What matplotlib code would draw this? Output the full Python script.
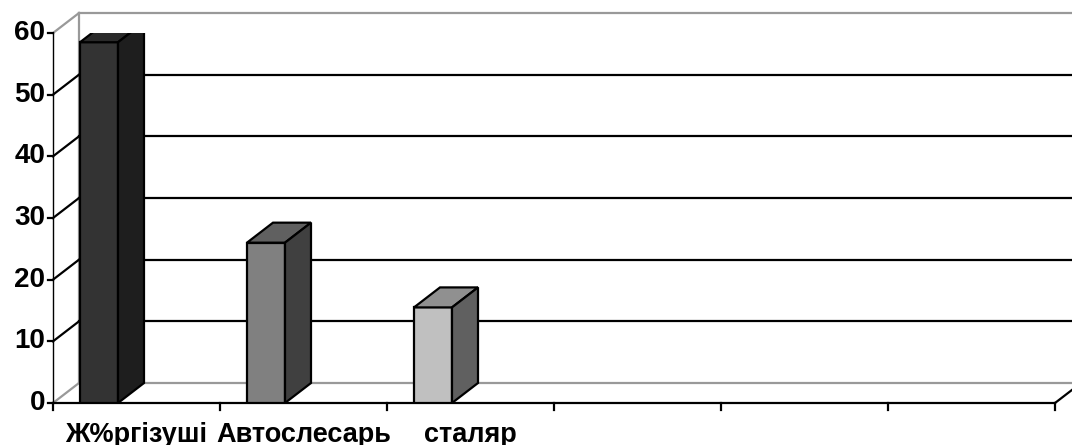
import matplotlib.pyplot as plt
from matplotlib.patches import Polygon

# data
categories = ["Ж%ргізуші", "Автослесарь", "сталяр"]
values = [58.5, 26, 15.5]
n_slots = 6
yticks = [0, 10, 20, 30, 40, 50, 60]

front_colors = ["#333333", "#808080", "#c0c0c0"]
top_colors = ["#2a2a2a", "#606060", "#909090"]
side_colors = ["#1e1e1e", "#404040", "#606060"]

plt.rcParams['font.family'] = ['Liberation Sans', 'DejaVu Sans']

fig = plt.figure(figsize=(10.72, 4.45), dpi=100)
ax = fig.add_axes([53 / 1072, 42 / 445, 1002 / 1072, 370 / 445])
ax.set_xlim(0, n_slots)
ax.set_ylim(0, 60)
ax.axis("off")

# 3d depth offset in data units
dx = 26 / 167
dy = 20 * 60 / 370
gray = "#999999"
lw = 1.6

# back wall
ax.plot([dx, n_slots + dx], [60 + dy, 60 + dy], color=gray, lw=lw, clip_on=False)
ax.plot([dx, n_slots + dx], [dy, dy], color=gray, lw=lw, clip_on=False)
ax.plot([dx, dx], [dy, 60 + dy], color=gray, lw=lw, clip_on=False)
for t in yticks[1:-1]:
    ax.plot([dx, n_slots + dx], [t + dy, t + dy], color="black", lw=lw, clip_on=False)

# left wall diagonals
for t in yticks:
    c = gray if t in (0, 60) else "black"
    ax.plot([0, dx], [t, t + dy], color=c, lw=lw, clip_on=False)

# right floor edge
ax.plot([n_slots, n_slots + dx], [0, dy], color="black", lw=lw, clip_on=False)

# front axes
ax.plot([0, 0], [0, 60], color="black", lw=1.0, clip_on=False)
ax.plot([0, n_slots], [0, 0], color="black", lw=lw, clip_on=False)
for t in yticks:
    ax.plot([-0.03, 0], [t, t], color="black", lw=lw, clip_on=False)
    ax.text(-0.045, t, str(t), ha="right", va="center", fontsize=20, fontweight="bold")
for i in range(n_slots + 1):
    ax.plot([i, i], [0, -1.2], color="black", lw=lw, clip_on=False)

# bars
x0 = 27 / 167
w = 38 / 167
for i, v in enumerate(values):
    left = i + x0
    right = left + w
    ax.bar(left, v, width=w, align="edge", color=front_colors[i], edgecolor="black",
           linewidth=lw, zorder=3)
    top = Polygon([(left, v), (right, v), (right + dx, v + dy), (left + dx, v + dy)],
                  closed=True, facecolor=top_colors[i], edgecolor="black", lw=lw, zorder=3)
    side = Polygon([(right, 0), (right + dx, dy), (right + dx, v + dy), (right, v)],
                   closed=True, facecolor=side_colors[i], edgecolor="black", lw=lw, zorder=3)
    ax.add_patch(top)
    ax.add_patch(side)
    ax.text(i + 0.5, -3.0, categories[i], ha="center", va="top", fontsize=19.5,
            fontweight="bold")

fig.savefig("out.png", dpi=100)
